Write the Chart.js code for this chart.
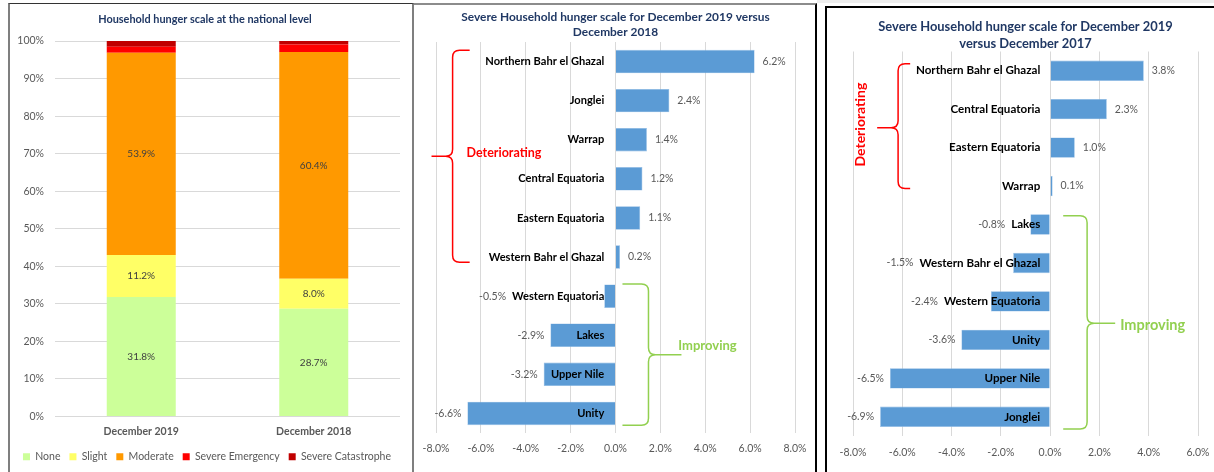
<!DOCTYPE html>
<html>
<head>
<meta charset="utf-8">
<script src="https://cdn.jsdelivr.net/npm/chart.js@4"></script>
<style>
  body { margin: 0; background: #fff; width: 1214px; height: 472px; overflow: hidden; position: relative; font-family: Lato, sans-serif; }
  .panel { position: absolute; box-sizing: border-box; background: #fff; }
  #p1 { left: 8px; top: 3px; width: 406px; height: 480px; border-left: 2px solid #7f7f7f; border-right: 2px solid #7f7f7f; border-top: 1px solid #333; }
  #p2 { left: 414px; top: 3px; width: 403px; height: 480px; border-top: 2px solid #8c8c8c; border-right: 2px solid #000; }
  #p3 { left: 825px; top: 6px; width: 400px; height: 480px; border-left: 2px solid #000; border-top: 2px solid #000; }
  .strip { position: absolute; left: 817px; top: 0; width: 397px; height: 3px; background: #eeeeee; }
  canvas { position: absolute; }
  #c1 { left: 10px; top: 4px; }
  #c2 { left: 414px; top: 5px; }
  #c3 { left: 827px; top: 8px; }
</style>
</head>
<body>
<div class="strip"></div>
<div class="panel" id="p1"></div>
<div class="panel" id="p2"></div>
<div class="panel" id="p3"></div>
<canvas id="c1" width="402" height="468"></canvas>
<canvas id="c2" width="401" height="467"></canvas>
<canvas id="c3" width="387" height="464"></canvas>
<script>
// National level household hunger scale (%)
const nationalCats = ['December 2019', 'December 2018'];
const noneVals = [31.8, 28.7];
const slightVals = [11.2, 8.0];
const moderateVals = [53.9, 60.4];
const emergencyVals = [1.6, 2.0];
const catastropheVals = [1.5, 0.9];

// Severe HHS change, Dec 2019 vs Dec 2018 (percentage points)
const states2018 = ['Northern Bahr el Ghazal', 'Jonglei', 'Warrap', 'Central Equatoria', 'Eastern Equatoria',
  'Western Bahr el Ghazal', 'Western Equatoria', 'Lakes', 'Upper Nile', 'Unity'];
const change2018 = [6.2, 2.4, 1.4, 1.2, 1.1, 0.2, -0.5, -2.9, -3.2, -6.6];

// Severe HHS change, Dec 2019 vs Dec 2017 (percentage points)
const states2017 = ['Northern Bahr el Ghazal', 'Central Equatoria', 'Eastern Equatoria', 'Warrap', 'Lakes',
  'Western Bahr el Ghazal', 'Western Equatoria', 'Unity', 'Upper Nile', 'Jonglei'];
const change2017 = [3.8, 2.3, 1.0, 0.1, -0.8, -1.5, -2.4, -3.6, -6.5, -6.9];

const FONT = 'Lato, "Open Sans", sans-serif';
const TITLE_COLOR = '#203864';
const TEXT_GRAY = '#595959';
const GRID = '#D9D9D9';
const BAR_BLUE = '#5B9BD5';
const RED = '#FF0000';
const GREEN = '#92D050';

Chart.defaults.font.family = FONT;
Chart.defaults.color = TEXT_GRAY;
Chart.defaults.animation = false;

// labels in the middle of stacked segments
const segmentLabels = {
  id: 'segmentLabels',
  afterDatasetsDraw(chart) {
    const ctx = chart.ctx;
    ctx.save();
    ctx.font = '10px ' + FONT;
    ctx.fillStyle = '#404040';
    ctx.textAlign = 'center';
    ctx.textBaseline = 'middle';
    [0, 1, 2].forEach(di => {
      const meta = chart.getDatasetMeta(di);
      meta.data.forEach((bar, i) => {
        const v = chart.data.datasets[di].data[i];
        ctx.fillText(v.toFixed(1) + '%', bar.x, (bar.y + bar.base) / 2);
      });
    });
    ctx.restore();
  }
};

// value labels beside horizontal bars, kept clear of the category label
const valueLabels = {
  id: 'valueLabels',
  afterDatasetsDraw(chart) {
    const ctx = chart.ctx;
    const yScale = chart.scales.y;
    const labelRight = chart.scales.x.getPixelForValue(yScale.options.position.x);
    const catFont = yScale.options.ticks.font;
    ctx.save();
    const meta = chart.getDatasetMeta(0);
    meta.data.forEach((bar, i) => {
      const v = chart.data.datasets[0].data[i];
      const txt = v.toFixed(1) + '%';
      ctx.textBaseline = 'middle';
      if (v >= 0) {
        ctx.font = '10.5px ' + FONT;
        ctx.fillStyle = TEXT_GRAY;
        ctx.textAlign = 'left';
        ctx.fillText(txt, bar.x + 8, bar.y);
      } else {
        ctx.font = 'bold ' + catFont.size + 'px ' + FONT;
        const catLeft = labelRight - ctx.measureText(chart.data.labels[i]).width;
        ctx.font = '10.5px ' + FONT;
        ctx.fillStyle = TEXT_GRAY;
        ctx.textAlign = 'right';
        ctx.fillText(txt, Math.min(bar.x, catLeft) - 6, bar.y);
      }
    });
    ctx.restore();
  }
};

// curly braces and group notes, placed in axis units
function drawBrace(ctx, b, xs, ys) {
  const line = xs.getPixelForValue(b.line);
  const end = xs.getPixelForValue(b.end);
  const tip = xs.getPixelForValue(b.tip);
  const top = ys.getPixelForValue(b.from);
  const bot = ys.getPixelForValue(b.to);
  const mid = ys.getPixelForValue(b.mid);
  const d = end > line ? 1 : -1;
  const r = 7;
  ctx.save();
  ctx.strokeStyle = b.color;
  ctx.lineWidth = 1.5;
  ctx.beginPath();
  ctx.moveTo(end, top);
  ctx.lineTo(line + d * r, top);
  ctx.quadraticCurveTo(line, top, line, top + r);
  ctx.lineTo(line, mid - r);
  ctx.quadraticCurveTo(line, mid, line - d * r, mid);
  ctx.lineTo(tip, mid);
  ctx.moveTo(line - d * r, mid);
  ctx.quadraticCurveTo(line, mid, line, mid + r);
  ctx.lineTo(line, bot - r);
  ctx.quadraticCurveTo(line, bot, line + d * r, bot);
  ctx.lineTo(end, bot);
  ctx.stroke();
  ctx.restore();
}

function drawNote(ctx, n, xs, ys) {
  ctx.save();
  ctx.font = 'bold ' + n.size + 'px ' + FONT;
  ctx.fillStyle = n.color;
  ctx.textBaseline = 'middle';
  const x = xs.getPixelForValue(n.x);
  const y = ys.getPixelForValue(n.y);
  if (n.rotate) {
    ctx.translate(x, y);
    ctx.rotate(-Math.PI / 2);
    ctx.textAlign = 'center';
    ctx.fillText(n.text, 0, 0);
  } else {
    ctx.textAlign = 'left';
    ctx.fillText(n.text, x, y);
  }
  ctx.restore();
}

const groupNotes = {
  id: 'groupNotes',
  afterDraw(chart, args, opts) {
    const xs = chart.scales.x, ys = chart.scales.y;
    (opts.braces || []).forEach(b => drawBrace(chart.ctx, b, xs, ys));
    (opts.notes || []).forEach(n => drawNote(chart.ctx, n, xs, ys));
  }
};

// --- chart 1: stacked national level
new Chart(document.getElementById('c1'), {
  type: 'bar',
  data: {
    labels: nationalCats,
    datasets: [
      { label: 'None', data: noneVals, backgroundColor: '#CCFF99' },
      { label: 'Slight', data: slightVals, backgroundColor: '#FFFF66' },
      { label: 'Moderate', data: moderateVals, backgroundColor: '#FF9900' },
      { label: 'Severe Emergency', data: emergencyVals, backgroundColor: '#FF0000' },
      { label: 'Severe Catastrophe', data: catastropheVals, backgroundColor: '#C00000' }
    ]
  },
  options: {
    responsive: false,
    barPercentage: 0.4,
    categoryPercentage: 1,
    layout: { padding: { left: 0, right: 12, top: 0, bottom: 0 } },
    plugins: {
      title: {
        display: true,
        text: 'Household hunger scale at the national level',
        color: TITLE_COLOR,
        font: { size: 10.9, weight: 'bold' },
        padding: { top: 8.6, bottom: 15.4 }
      },
      legend: {
        position: 'bottom',
        align: 'end',
        labels: { boxWidth: 7, boxHeight: 7, padding: 9, font: { size: 10.5 }, color: TEXT_GRAY }
      },
      tooltip: { enabled: false }
    },
    scales: {
      x: {
        stacked: true,
        grid: { display: false, drawTicks: false },
        border: { display: false },
        ticks: { padding: 9, font: { size: 10.5, weight: 'bold' }, color: TEXT_GRAY },
        afterFit: s => { s.height = 26; }
      },
      y: {
        stacked: true,
        min: 0,
        max: 100,
        grid: { color: GRID, drawTicks: false },
        border: { display: false },
        ticks: { stepSize: 10, padding: 11, font: { size: 10.5 }, color: TEXT_GRAY, callback: v => v + '%' },
        afterFit: s => { s.width = 45; }
      }
    }
  },
  plugins: [segmentLabels]
});

function changeChart(id, labels, values, opts) {
  return new Chart(document.getElementById(id), {
    type: 'bar',
    data: {
      labels: labels,
      datasets: [{ data: values, backgroundColor: BAR_BLUE, borderColor: '#8DB9E3', borderWidth: 0.6 }]
    },
    options: {
      responsive: false,
      indexAxis: 'y',
      barPercentage: opts.barPct,
      categoryPercentage: 1,
      layout: { padding: opts.padding },
      plugins: {
        title: {
          display: true,
          text: opts.title,
          color: TITLE_COLOR,
          font: { size: opts.titleSize, weight: 'bold', lineHeight: 1.26 },
          padding: opts.titlePad
        },
        legend: { display: false },
        tooltip: { enabled: false },
        groupNotes: opts.notes
      },
      scales: {
        x: {
          min: opts.min,
          max: opts.max,
          grid: { color: GRID, tickLength: opts.tickPad, tickColor: 'rgba(0,0,0,0)' },
          border: { display: false },
          ticks: { stepSize: 2, padding: 0, font: { size: 10.5 }, color: TEXT_GRAY, callback: v => v.toFixed(1) + '%' },
          afterFit: s => { s.height = 22; }
        },
        y: {
          position: { x: opts.labelAt },
          grid: { display: false },
          border: { display: false },
          ticks: { z: 1, padding: 0, font: { size: opts.catSize, weight: 'bold' }, color: '#000' }
        }
      }
    },
    plugins: [valueLabels, groupNotes]
  });
}

changeChart('c2', states2018, change2018, {
  title: ['Severe Household hunger scale for December 2019 versus', 'December 2018'],
  titleSize: 11.9,
  titlePad: { top: 4.5, bottom: 2.5 },
  padding: { left: 22, right: 20, top: 0, bottom: 17 },
  barPct: 0.6,
  min: -8, max: 8,
  tickPad: 9,
  labelAt: -0.5,
  catSize: 11.1,
  notes: {
    braces: [
      { line: -7.26, end: -6.5, tip: -8.2, from: -0.29, to: 5.13, mid: 2.42, color: RED },
      { line: 1.47, end: 0.31, tip: 2.94, from: 5.69, to: 9.3, mid: 7.5, color: GREEN }
    ],
    notes: [
      { text: 'Deteriorating', x: -6.64, y: 2.34, size: 12.5, color: RED },
      { text: 'Improving', x: 2.8, y: 7.28, size: 13, color: GREEN }
    ]
  }
});

changeChart('c3', states2017, change2017, {
  title: ['Severe Household hunger scale for December 2019', 'versus December 2017'],
  titleSize: 12.9,
  titlePad: { top: 11, bottom: 0 },
  padding: { left: 26, right: 16, top: 0, bottom: 14 },
  barPct: 0.53,
  min: -8, max: 6,
  tickPad: 10,
  labelAt: -0.4,
  catSize: 11.6,
  notes: {
    braces: [
      { line: -6.17, end: -5.68, tip: -7.02, from: -0.18, to: 3.06, mid: 1.48, color: RED },
      { line: 1.5, end: 0.53, tip: 2.64, from: 3.77, to: 9.32, mid: 6.57, color: GREEN }
    ],
    notes: [
      { text: 'Deteriorating', x: -7.71, y: 1.4, size: 14, color: RED, rotate: true },
      { text: 'Improving', x: 2.84, y: 6.62, size: 14.5, color: GREEN }
    ]
  }
});
</script>
</body>
</html>
